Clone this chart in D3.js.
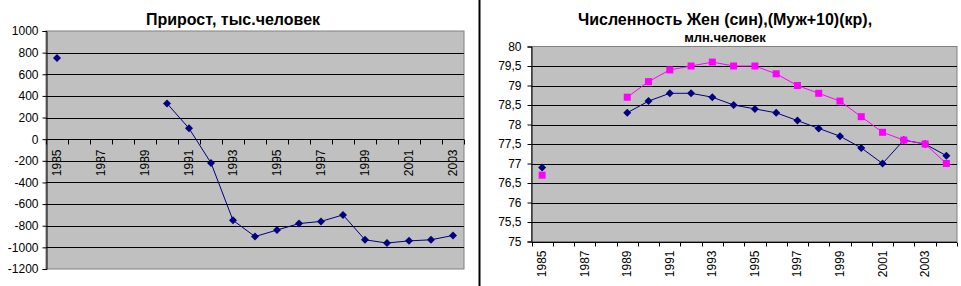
<!DOCTYPE html>
<html><head><meta charset="utf-8">
<script src="https://cdn.jsdelivr.net/npm/d3@7"></script>
<style>
body{margin:0;background:#fff;}
svg text{font-family:"Liberation Sans",Arial,sans-serif;fill:#000;}
</style></head>
<body><svg id="c" width="961" height="286"></svg>
<script>
// ---- data ----
const leftYears = ["1985","1986","1987","1988","1989","1990","1991","1992","1993","1994","1995","1996","1997","1998","1999","2000","2001","2002","2003"];
const growth = [750,null,null,null,null,330,100,-220,-750,-900,-840,-780,-760,-700,-930,-960,-940,-930,-890];
const leftYTicks = [1000,800,600,400,200,0,-200,-400,-600,-800,-1000,-1200];
const leftTitle = "Прирост, тыс.человек";

const rightYears = ["1985","1986","1987","1988","1989","1990","1991","1992","1993","1994","1995","1996","1997","1998","1999","2000","2001","2002","2003","2004"];
const women = [76.9,null,null,null,78.3,78.6,78.8,78.8,78.7,78.5,78.4,78.3,78.1,77.9,77.7,77.4,77.0,77.6,77.5,77.2];
const menPlus10 = [76.7,null,null,null,78.7,79.1,79.4,79.5,79.6,79.5,79.5,79.3,79.0,78.8,78.6,78.2,77.8,77.6,77.5,77.0];
const rightYTicks = [80,79.5,79,78.5,78,77.5,77,76.5,76,75.5,75];
const rightTitle1 = "Численность Жен (син),(Муж+10)(кр),";
const rightTitle2 = "млн.человек";

const svg = d3.select("#c");
const NAVY = "#000080", MAG = "#FF00FF", BG = "#C0C0C0";
const diamond = "M0,-4L4,0L0,4L-4,0Z";

// separator
svg.append("line").attr("x1",479.5).attr("x2",479.5).attr("y1",0).attr("y2",286)
  .attr("stroke","#000").attr("stroke-width",2);

// ===== Left chart =====
{
  const x = d3.scaleBand().domain(leftYears).range([46,464]).padding(0);
  const y = d3.scaleLinear().domain([-1200,1000]).range([269,31]);
  const g = svg.append("g");
  g.append("rect").attr("x",46).attr("y",31).attr("width",418).attr("height",238)
    .attr("fill",BG).attr("stroke","#808080").attr("stroke-width",1);
  // grid
  g.selectAll(".gl").data(leftYTicks.filter(d=>d!==1000 && d!==-1200)).join("line")
    .attr("x1",46).attr("x2",464).attr("y1",d=>Math.round(y(d))+0.5).attr("y2",d=>Math.round(y(d))+0.5)
    .attr("stroke","#000").attr("stroke-width",1);
  // y axis
  const ya = d3.axisLeft(y).tickValues(leftYTicks).tickSize(4).tickPadding(4).tickFormat(d=>String(d));
  const yg = g.append("g").attr("transform","translate(46.5,0)").call(ya);
  yg.select(".domain").attr("stroke","#000");
  yg.selectAll(".tick line").attr("stroke","#000");
  yg.selectAll("text").style("font-size","12px").attr("fill","#000");
  // x axis at 0
  const y0 = Math.round(y(0))+0.5;
  g.append("line").attr("x1",46).attr("x2",464).attr("y1",y0).attr("y2",y0).attr("stroke","#000");
  const bounds = leftYears.map(d=>x(d)).concat([x.range()[1]]);
  g.selectAll(".xt").data(bounds).join("line")
    .attr("x1",d=>Math.round(d)+0.5).attr("x2",d=>Math.round(d)+0.5).attr("y1",y0).attr("y2",y0+5)
    .attr("stroke","#000");
  g.selectAll(".xl").data(leftYears.filter((d,i)=>i%2===0)).join("text")
    .attr("transform",d=>`translate(${x(d)+x.bandwidth()/2+4},${y0+10}) rotate(-90)`)
    .attr("text-anchor","end").style("font-size","12px").text(d=>d);
  // line
  const pts = leftYears.map((d,i)=>({c:d,v:growth[i]}));
  const line = d3.line().defined(d=>d.v!==null).x(d=>x(d.c)+x.bandwidth()/2).y(d=>y(d.v));
  g.append("path").attr("d",line(pts)).attr("fill","none").attr("stroke",NAVY).attr("stroke-width",1);
  g.selectAll(".m").data(pts.filter(d=>d.v!==null)).join("path")
    .attr("transform",d=>`translate(${x(d.c)+x.bandwidth()/2},${y(d.v)})`)
    .attr("d",diamond).attr("fill",NAVY);
  g.append("text").attr("x",233).attr("y",24.5).attr("text-anchor","middle")
    .style("font-size","16px").style("font-weight","bold").text(leftTitle);
}

// ===== Right chart =====
{
  const x = d3.scaleBand().domain(rightYears).range([531.5,957]).padding(0);
  const y = d3.scaleLinear().domain([75,80]).range([241.5,46.5]);
  const g = svg.append("g");
  g.append("rect").attr("x",531.5).attr("y",46.5).attr("width",425.5).attr("height",195)
    .attr("fill",BG).attr("stroke","#808080").attr("stroke-width",1);
  g.selectAll(".gl").data(rightYTicks.filter(d=>d!==80 && d!==75)).join("line")
    .attr("x1",531.5).attr("x2",957).attr("y1",d=>Math.round(y(d))+0.5).attr("y2",d=>Math.round(y(d))+0.5)
    .attr("stroke","#000");
  const ya = d3.axisLeft(y).tickValues(rightYTicks).tickSize(4).tickPadding(6)
    .tickFormat(d=>String(d).replace(".",","));
  const yg = g.append("g").attr("transform","translate(531.5,0)").call(ya);
  yg.select(".domain").attr("stroke","#000");
  yg.selectAll(".tick line").attr("stroke","#000");
  yg.selectAll("text").style("font-size","12px").attr("fill","#000");
  const yb = Math.round(y(75))+0.5;
  g.append("line").attr("x1",531.5).attr("x2",957).attr("y1",yb).attr("y2",yb).attr("stroke","#000");
  const bounds = rightYears.map(d=>x(d)).concat([x.range()[1]]);
  g.selectAll(".xt").data(bounds).join("line")
    .attr("x1",d=>Math.round(d)+0.5).attr("x2",d=>Math.round(d)+0.5).attr("y1",yb).attr("y2",yb+4)
    .attr("stroke","#000");
  g.selectAll(".xl").data(rightYears.filter((d,i)=>i%2===0)).join("text")
    .attr("transform",d=>`translate(${x(d)+x.bandwidth()/2+4},${yb+8}) rotate(-90)`)
    .attr("text-anchor","end").style("font-size","12px").text(d=>d);
  const series = [{vals:women,col:NAVY,mk:"d"},{vals:menPlus10,col:MAG,mk:"s"}];
  series.forEach(s=>{
    const pts = rightYears.map((d,i)=>({c:d,v:s.vals[i]}));
    const line = d3.line().defined(d=>d.v!==null).x(d=>x(d.c)+x.bandwidth()/2).y(d=>y(d.v));
    g.append("path").attr("d",line(pts)).attr("fill","none").attr("stroke",s.col).attr("stroke-width",1);
  });
  series.forEach(s=>{
    const pts = rightYears.map((d,i)=>({c:d,v:s.vals[i]})).filter(d=>d.v!==null);
    if(s.mk==="d"){
      g.selectAll(".md").data(pts).join("path")
        .attr("transform",d=>`translate(${x(d.c)+x.bandwidth()/2},${y(d.v)})`)
        .attr("d",diamond).attr("fill",s.col);
    } else {
      g.selectAll(".ms").data(pts).join("rect")
        .attr("x",d=>x(d.c)+x.bandwidth()/2-3.5).attr("y",d=>y(d.v)-3.5)
        .attr("width",7).attr("height",7).attr("fill",s.col);
    }
  });
  g.append("text").attr("x",725).attr("y",24.5).attr("text-anchor","middle")
    .style("font-size","16px").style("font-weight","bold").text(rightTitle1);
  g.append("text").attr("x",725).attr("y",42).attr("text-anchor","middle")
    .style("font-size","13px").style("font-weight","bold").text(rightTitle2);
}
</script></body></html>
